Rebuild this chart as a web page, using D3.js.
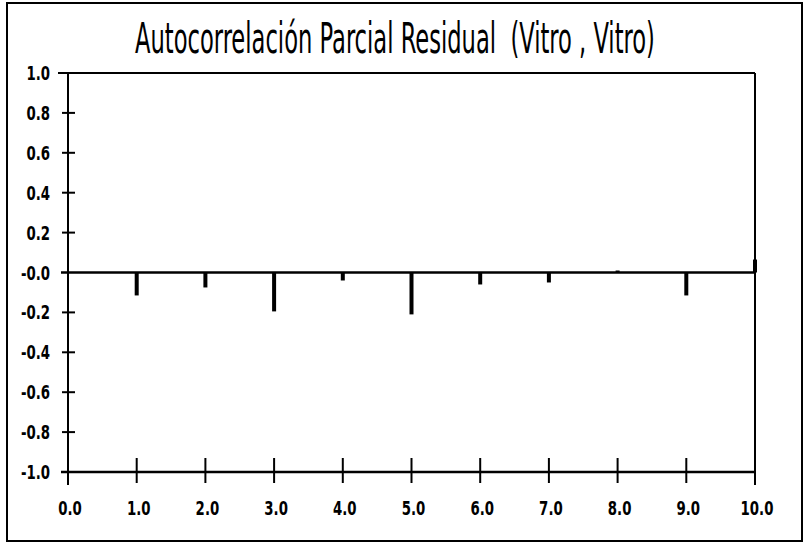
<!DOCTYPE html>
<html><head><meta charset="utf-8">
<script src="https://cdn.jsdelivr.net/npm/d3@7"></script>
<style>body{margin:0;background:#fff}svg{display:block}text{white-space:pre}</style>
</head><body>
<svg id="c" width="805" height="544"></svg>
<script>
const title = "Autocorrelación Parcial Residual  (Vitro , Vitro)";
const lags = [1,2,3,4,5,6,7,8,9,10];
const pacf = [-0.115,-0.075,-0.195,-0.04,-0.21,-0.06,-0.05,0.01,-0.115,0.065];
const xTicks = [0,1,2,3,4,5,6,7,8,9,10];
const xTickLabels = ["0.0","1.0","2.0","3.0","4.0","5.0","6.0","7.0","8.0","9.0","10.0"];
const yTicks = [1.0,0.8,0.6,0.4,0.2,0,-0.2,-0.4,-0.6,-0.8,-1.0];
const yTickLabels = ["1.0","0.8","0.6","0.4","0.2","-0.0","-0.2","-0.4","-0.6","-0.8","-1.0"];

const svg = d3.select("#c");
const x = d3.scaleLinear().domain([0,10]).range([68,755]);
const y = d3.scaleLinear().domain([-1,1]).range([472,73]);
const font = "'DejaVu Sans Condensed','Liberation Sans Narrow',sans-serif";

// outer frame
svg.append("rect").attr("x",7).attr("y",3).attr("width",795).attr("height",538)
  .attr("fill","none").attr("stroke","#000").attr("stroke-width",2);

// title
const t = svg.append("text").attr("x",0).attr("y",0).attr("text-anchor","start")
  .attr("font-family",font).attr("font-size",42).attr("fill","#000")
  .attr("xml:space","preserve")
  .text(title);
const tw = t.node().getComputedTextLength();
t.attr("transform",`translate(135,53) scale(${520/tw},1)`);

const g = svg.append("g").attr("stroke","#000").attr("fill","none");
// top line
g.append("line").attr("x1",58).attr("x2",x(10)).attr("y1",y(1)).attr("y2",y(1)).attr("stroke-width",2);
// right line
g.append("line").attr("x1",x(10)).attr("x2",x(10)).attr("y1",y(1)).attr("y2",y(-1)+13).attr("stroke-width",2);
// left axis
g.append("line").attr("x1",x(0)).attr("x2",x(0)).attr("y1",y(1)).attr("y2",y(-1)+13).attr("stroke-width",2);
// bottom axis
g.append("line").attr("x1",61).attr("x2",x(10)).attr("y1",y(-1)).attr("y2",y(-1)).attr("stroke-width",2.5);
// zero line
g.append("line").attr("x1",61).attr("x2",x(10)).attr("y1",y(0)).attr("y2",y(0)).attr("stroke-width",2.5);

// y ticks
g.selectAll(".yt").data(yTicks.filter(d=>d!==1 && d!==0 && d!==-1)).join("line")
  .attr("x1",x(0)-6).attr("x2",x(0)+7).attr("y1",d=>y(d)).attr("y2",d=>y(d)).attr("stroke-width",2);
// x ticks
g.selectAll(".xt").data(xTicks.slice(1,10)).join("line")
  .attr("x1",d=>x(d)).attr("x2",d=>x(d)).attr("y1",y(-1)-14).attr("y2",y(-1)+11).attr("stroke-width",2);

// y labels
svg.selectAll(".yl").data(yTicks).join("text")
  .attr("transform",d=>`translate(50,${y(d)+7}) scale(0.74,1)`).attr("text-anchor","end")
  .attr("font-family",font).attr("font-weight","bold").attr("font-size",20).attr("fill","#000")
  .text((d,i)=>yTickLabels[i]);
// x labels
svg.selectAll(".xl").data(xTicks).join("text")
  .attr("transform",d=>`translate(${x(d)+2},515) scale(0.74,1)`).attr("text-anchor","middle")
  .attr("font-family",font).attr("font-weight","bold").attr("font-size",20).attr("fill","#000")
  .text((d,i)=>xTickLabels[i]);

// bars
svg.selectAll(".bar").data(lags).join("rect")
  .attr("x",d=>x(d)-2).attr("width",4)
  .attr("y",(d,i)=>Math.min(y(0),y(pacf[i])))
  .attr("height",(d,i)=>Math.abs(y(pacf[i])-y(0)))
  .attr("fill","#000");
</script>
</body></html>
